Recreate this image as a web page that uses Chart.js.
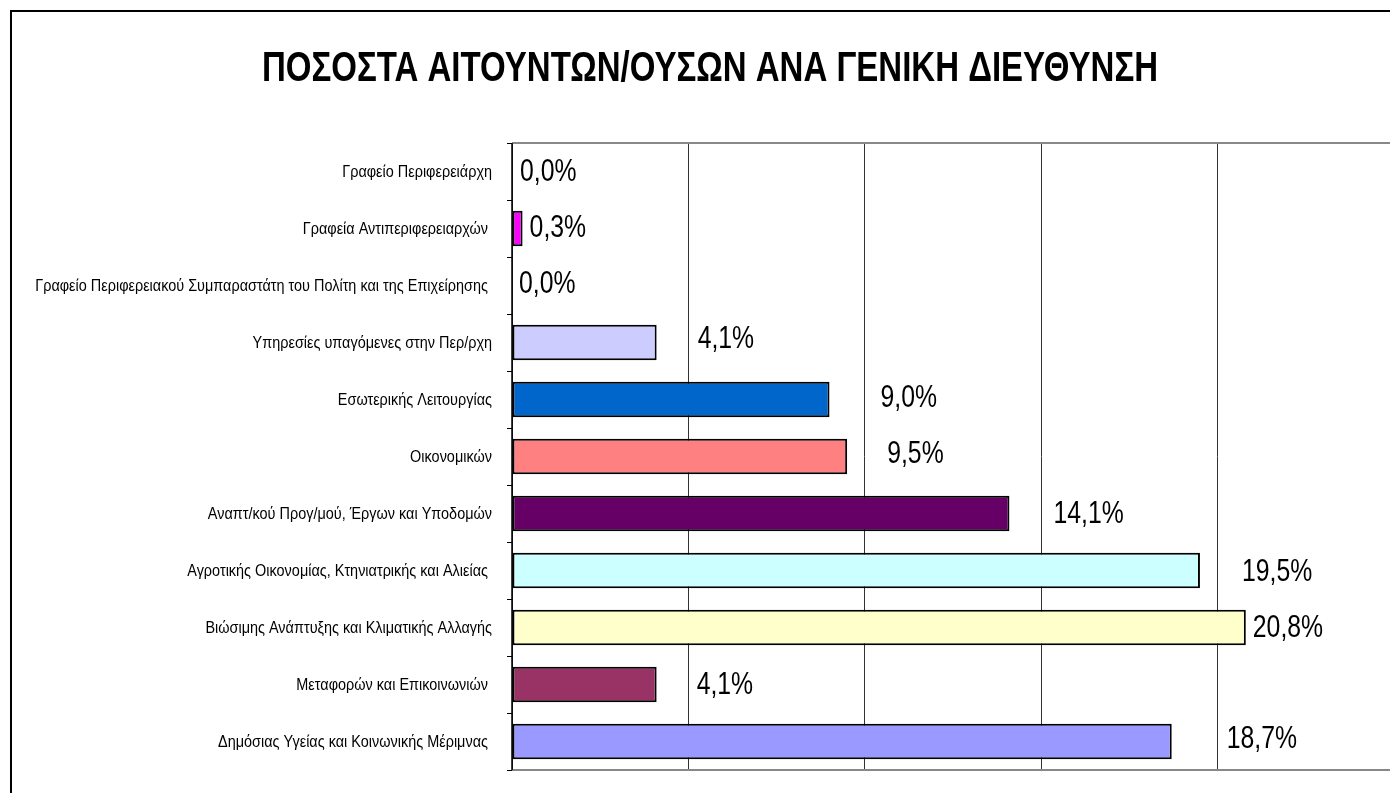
<!DOCTYPE html>
<html>
<head>
<meta charset="utf-8">
<script src="https://cdn.jsdelivr.net/npm/chart.js@4"></script>
<style>
  html, body { margin: 0; padding: 0; background: #fff; overflow: hidden; }
  #wrap { position: absolute; left: 0; top: 0; width: 1394px; height: 793px; }
</style>
</head>
<body>
<div id="wrap"><canvas id="c"></canvas></div>
<script>
const chartTitle = "ΠΟΣΟΣΤΑ ΑΙΤΟΥΝΤΩΝ/ΟΥΣΩΝ ΑΝΑ ΓΕΝΙΚΗ ΔΙΕΥΘΥΝΣΗ";
const categories = [
  "Γραφείο Περιφερειάρχη",
  "Γραφεία Αντιπεριφερειαρχών ",
  "Γραφείο Περιφερειακού Συμπαραστάτη του Πολίτη και της Επιχείρησης ",
  "Υπηρεσίες υπαγόμενες στην Περ/ρχη",
  "Εσωτερικής Λειτουργίας",
  "Οικονομικών",
  "Αναπτ/κού Προγ/μού, Έργων και Υποδομών",
  "Αγροτικής Οικονομίας, Κτηνιατρικής και Αλιείας ",
  "Βιώσιμης Ανάπτυξης και Κλιματικής Αλλαγής",
  "Μεταφορών και Επικοινωνιών ",
  "Δημόσιας Υγείας και Κοινωνικής Μέριμνας "
];
const percentages = [0.0, 0.3, 0.0, 4.1, 9.0, 9.5, 14.1, 19.5, 20.8, 4.1, 18.7];
const xTicks = [0, 5, 10, 15, 20, 25];

// styles (not data)
const FONT = '"Liberation Sans", Arial, sans-serif';
const barColors = ["#FFFFFF", "#FF00FF", "#FFFFFF", "#CCCCFF", "#0066CC", "#FF8080",
                   "#660066", "#CCFFFF", "#FFFFCC", "#993366", "#9999FF"];
const labelOffsets = [[8,9],[7,8],[7,7],[41,5.5],[51,7.5],[40,6.5],[44,9.5],[42,10],[7,9],[40,9],[55,6]];

const fmt = v => v.toFixed(1).replace('.', ',') + '%';

function narrowText(ctx, text, x, y, sx, align) {
  ctx.save();
  ctx.translate(x, y);
  ctx.scale(sx, 1);
  ctx.textAlign = align;
  ctx.fillText(text, 0, 0);
  ctx.restore();
}

const frame = {
  id: 'frame',
  beforeDraw(chart) {
    const ctx = chart.ctx;
    ctx.save();
    ctx.strokeStyle = '#000';
    ctx.lineWidth = 2;
    ctx.beginPath();
    ctx.moveTo(11, 800);
    ctx.lineTo(11, 11);
    ctx.lineTo(1400, 11);
    ctx.stroke();
    ctx.fillStyle = '#000';
    ctx.font = 'bold 42px ' + FONT;
    ctx.textBaseline = 'alphabetic';
    narrowText(ctx, chartTitle, 710, 81, 0.786, 'center');
    ctx.restore();
  },
  afterDraw(chart) {
    const a = chart.chartArea, ctx = chart.ctx;
    ctx.save();
    ctx.strokeStyle = '#888';
    ctx.lineWidth = 2;
    ctx.beginPath();
    ctx.moveTo(a.left, a.top); ctx.lineTo(a.right + 10, a.top);
    ctx.moveTo(a.left, a.bottom); ctx.lineTo(a.right + 10, a.bottom);
    ctx.stroke();
    ctx.strokeStyle = '#000';
    ctx.lineWidth = 1.5;
    ctx.beginPath();
    ctx.moveTo(a.left, a.top); ctx.lineTo(a.left, a.bottom);
    ctx.stroke();
    const yScale = chart.scales.y;
    ctx.fillStyle = '#000';
    ctx.font = '17px ' + FONT;
    ctx.textBaseline = 'middle';
    categories.forEach((c, i) => {
      narrowText(ctx, c, 492, yScale.getPixelForValue(i) + 1, 0.85, 'right');
    });
    const meta = chart.getDatasetMeta(0);
    ctx.font = '31px ' + FONT;
    ctx.textBaseline = 'alphabetic';
    meta.data.forEach((bar, i) => {
      const off = labelOffsets[i];
      narrowText(ctx, fmt(percentages[i]), bar.x + off[0], bar.y + off[1], 0.8, 'left');
    });
    ctx.restore();
  }
};

new Chart(document.getElementById('c'), {
  type: 'bar',
  data: {
    labels: categories,
    datasets: [{
      data: percentages,
      backgroundColor: barColors,
      borderColor: '#000',
      borderWidth: 2,
      borderSkipped: false,
      barPercentage: 0.62,
      categoryPercentage: 1.0
    }]
  },
  options: {
    indexAxis: 'y',
    responsive: true,
    maintainAspectRatio: false,
    animation: false,
    layout: { padding: { left: 0, right: 0, top: 143, bottom: 23 } },
    plugins: {
      legend: { display: false },
      tooltip: { enabled: false },
      title: { display: false }
    },
    scales: {
      x: {
        min: 0,
        max: 25,
        afterBuildTicks: (s) => { s.ticks = xTicks.map(v => ({ value: v })); },
        ticks: { display: false },
        border: { display: false },
        grid: { color: '#333', lineWidth: 1, drawTicks: false }
      },
      y: {
        afterFit: (s) => { s.width = 512; },
        border: { display: false },
        grid: { display: true, drawOnChartArea: false, offset: true, tickLength: 5, color: '#000', lineWidth: 1 },
        ticks: { display: false }
      }
    }
  },
  plugins: [frame]
});
</script>
</body>
</html>
